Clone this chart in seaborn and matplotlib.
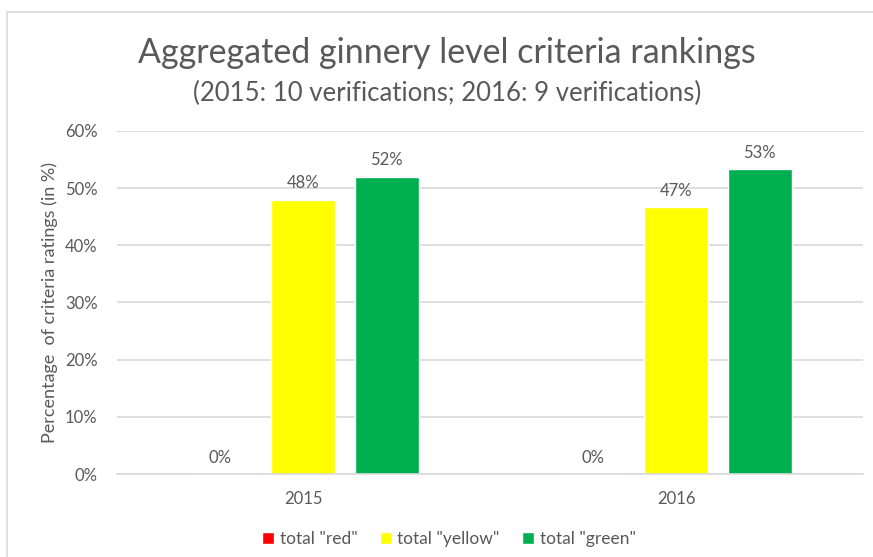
import matplotlib
matplotlib.use("Agg")
import matplotlib.pyplot as plt
import seaborn as sns
import pandas as pd
from matplotlib.patches import Rectangle

years = ["2015", "2016"]
series = ['total "red"', 'total "yellow"', 'total "green"']
red_pct = [0.0, 0.0]
yellow_pct = [48.0, 46.7]
green_pct = [52.0, 53.3]
colors = ["#FF0000", "#FFFF00", "#00B050"]

rows = []
for i, year in enumerate(years):
    for name, vals in zip(series, [red_pct, yellow_pct, green_pct]):
        rows.append({"year": year, "series": name, "value": vals[i]})
df = pd.DataFrame(rows)

sns.set_style("white")
plt.rcParams["font.family"] = ["Lato", "DejaVu Sans"]
text_color = "#595959"

fig = plt.figure(figsize=(8.73, 5.57), dpi=100)
ax = fig.add_axes([0.134, 0.149, 0.8545, 0.616])

sns.barplot(
    data=df, x="year", y="value", hue="series",
    palette=colors, width=0.668, gap=0.229, ax=ax,
    legend=True, saturation=1,
)

ax.set_ylim(0, 60)
ax.set_yticks(range(0, 61, 10))
ax.set_yticklabels([f"{v}%" for v in range(0, 61, 10)], color=text_color, fontsize=12)
ax.tick_params(axis="x", colors=text_color, labelsize=12, length=0, pad=12)
ax.tick_params(axis="y", length=0, pad=14)
ax.yaxis.grid(True, color="#D9D9D9", linewidth=1.2)
ax.set_axisbelow(True)
for side in ["top", "right", "left"]:
    ax.spines[side].set_visible(False)
ax.spines["bottom"].set_color("#D9D9D9")
ax.spines["bottom"].set_linewidth(1.2)
ax.set_xlabel("")
ax.set_ylabel("Percentage  of criteria ratings (in %)", color=text_color, fontsize=13, labelpad=5)

for container in ax.containers:
    ax.bar_label(container, labels=[f"{v:.0f}%" for v in container.datavalues],
                 padding=6, color=text_color, fontsize=12)

ax.legend(loc="upper center", bbox_to_anchor=(0.445, -0.122), ncol=3, frameon=False,
          handlelength=0.7, handleheight=0.7, handletextpad=0.3, columnspacing=1.3,
          fontsize=12.5, labelcolor=text_color)

fig.text(0.512, 0.905, "Aggregated ginnery level criteria rankings", ha="center", va="center",
         fontsize=24.5, color=text_color)
fig.text(0.512, 0.833, "(2015: 10 verifications; 2016: 9 verifications)", ha="center", va="center",
         fontsize=18.5, color=text_color)

fig.add_artist(Rectangle((7 / 873, -0.05), 1.1, 1 - 12 / 557 + 0.05, transform=fig.transFigure,
                         fill=False, edgecolor="#D9D9D9", linewidth=1.2))

fig.savefig("out.png", dpi=100)
